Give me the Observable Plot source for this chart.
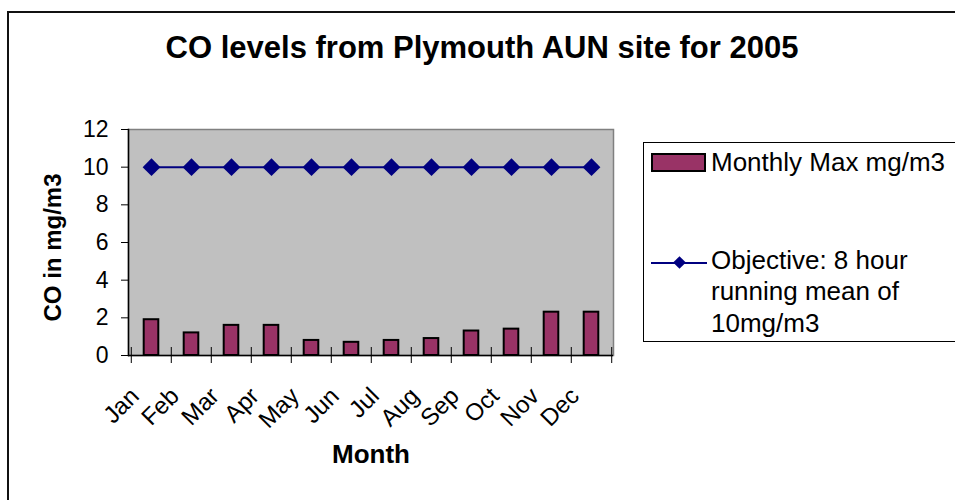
<!DOCTYPE html>
<html><head><meta charset="utf-8">
<script src="https://cdn.jsdelivr.net/npm/d3@7"></script>
<script src="https://cdn.jsdelivr.net/npm/@observablehq/plot@0.6"></script>
<style>
body{margin:0;background:#fff;}
#wrap{position:relative;width:955px;height:500px;overflow:hidden;font-family:"Liberation Sans",Arial,sans-serif;color:#000;}
#border{position:absolute;left:7px;top:11px;width:1000px;height:600px;border:2px solid #111;}
#title{position:absolute;left:0;width:964px;top:32px;text-align:center;font-weight:bold;font-size:31px;line-height:31px;white-space:nowrap;}
#chart{position:absolute;left:0;top:0;}
#legend{position:absolute;left:643px;top:142px;width:400px;height:198px;border:1px solid #000;background:#fff;}
#legend .sw{position:absolute;box-sizing:border-box;}
#legend .tx{position:absolute;font-size:26px;white-space:nowrap;}
</style></head>
<body>
<div id="wrap">
  <div id="border"></div>
  <div id="title">CO levels from Plymouth AUN site for 2005</div>
  <div id="chart"></div>
  <div id="legend">
    <div class="sw" style="left:7px;top:10px;width:55px;height:19px;border:2px solid #000;background:#993366;"></div>
    <div class="tx" id="leg1" style="left:67px;top:4px;line-height:30px;"></div>
    <div class="sw" style="left:7px;top:118.7px;width:56px;height:2px;background:#000080;"></div>
    <div class="sw" style="left:31px;top:115.2px;width:9px;height:9px;background:#000080;transform:rotate(45deg);"></div>
    <div class="tx" id="leg2" style="left:67px;top:101.6px;line-height:31.5px;"></div>
  </div>
</div>
<script>
const months = ["Jan","Feb","Mar","Apr","May","Jun","Jul","Aug","Sep","Oct","Nov","Dec"];
const monthlyMax = [1.9,1.2,1.6,1.6,0.8,0.7,0.8,0.9,1.3,1.4,2.3,2.3];
const objective = [10,10,10,10,10,10,10,10,10,10,10,10];
const yTicks = [0,2,4,6,8,10,12];
const seriesNames = ["Monthly Max mg/m3", "Objective: 8 hour<br>running mean of<br>10mg/m3"];

document.getElementById("leg1").innerHTML = seriesNames[0];
document.getElementById("leg2").innerHTML = seriesNames[1];

const data = months.map((m, i) => ({month: m, max: monthlyMax[i], objective: objective[i]}));

const W = 955, H = 500, mL = 128, mR = 342, mT = 129, mB = 145;
const bw = (W - mL - mR) / months.length;

const chart = Plot.plot({
  width: W, height: H,
  marginLeft: mL, marginRight: mR, marginTop: mT, marginBottom: mB,
  style: {fontFamily: "'Liberation Sans', Arial, sans-serif", fontSize: "23px", background: "transparent", color: "#000", overflow: "visible"},
  x: {type: "band", domain: months, padding: 0, label: null},
  y: {domain: [0, 12], label: null},
  marks: [
    Plot.frame({fill: "#c0c0c0", stroke: "#808080", strokeWidth: 1.5}),
    Plot.barY(data, {x: "month", y: "max", fill: "#993366", stroke: "#000", strokeWidth: 2, insetLeft: 12.7, insetRight: 12.7}),
    Plot.line(data, {x: "month", y: "objective", stroke: "#000080", strokeWidth: 2}),
    Plot.dot(data, {x: "month", y: "objective", symbol: "diamond2", r: 8, fill: "#000080", stroke: "none"}),
    Plot.frame({anchor: "left", stroke: "#000", strokeWidth: 1.5}),
    Plot.ruleY([0], {stroke: "#000", strokeWidth: 1.5}),
    Plot.axisY({ticks: yTicks, tickSize: 7, tickPadding: 13, fontSize: 23, label: null}),
    Plot.axisX({ticks: months, tickSize: 16, dy: -8, dx: -bw / 2, tickFormat: () => "", label: null}),
    Plot.axisX({ticks: [months[months.length - 1]], tickSize: 16, dy: -8, dx: bw / 2, tickFormat: () => "", label: null}),
    Plot.text(months, {x: d => d, text: d => d, frameAnchor: "bottom", rotate: -45, textAnchor: "end", dx: -11, dy: 42, fontSize: 24}),
    Plot.text(["Month"], {text: d => d, frameAnchor: "bottom", dy: 107, fontSize: 26, fontWeight: "bold"}),
    Plot.text(["CO in mg/m3"], {text: d => d, frameAnchor: "left", textAnchor: "middle", dx: -75, dy: 5, rotate: -90, fontSize: 24, fontWeight: "bold"})
  ]
});
document.getElementById("chart").appendChild(chart);
</script>
</body></html>
